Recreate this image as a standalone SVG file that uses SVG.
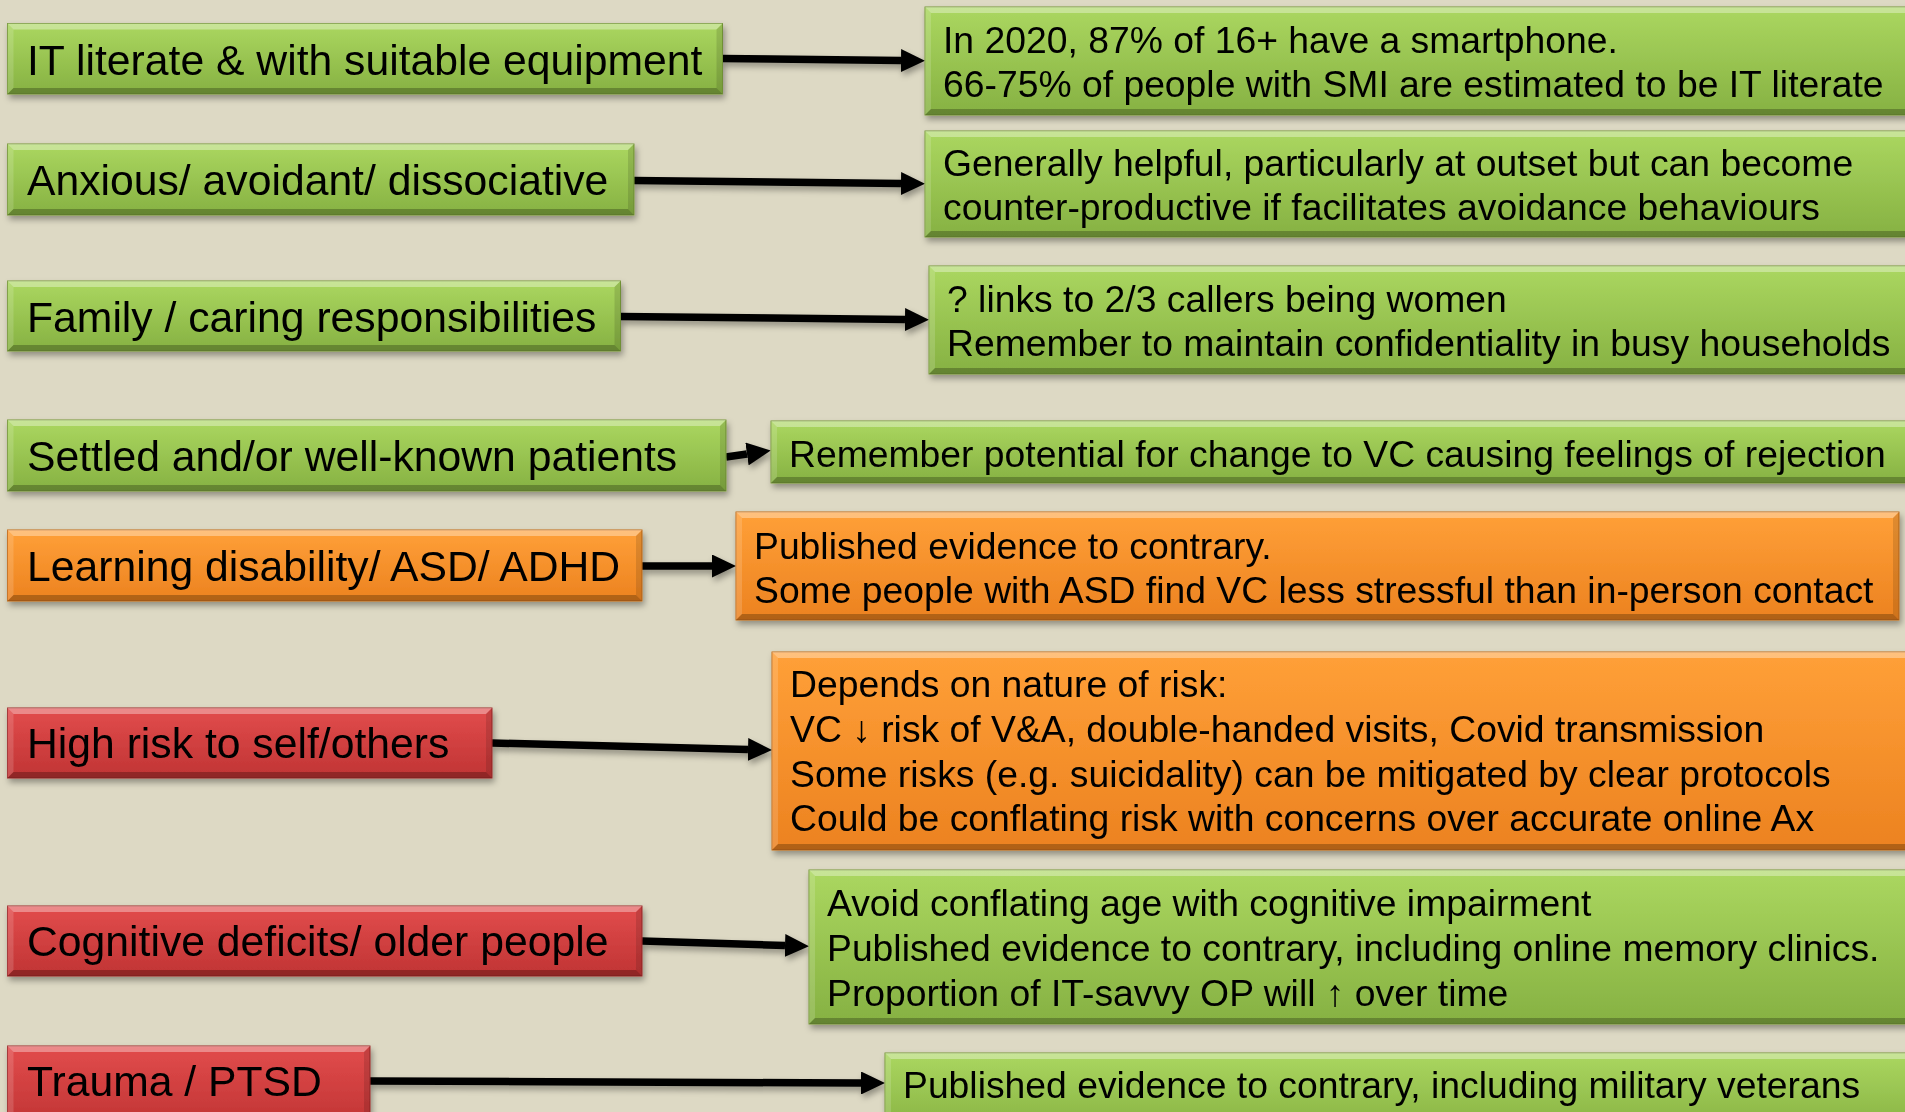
<svg xmlns="http://www.w3.org/2000/svg" width="1905" height="1112" viewBox="0 0 1905 1112">
<defs>
<linearGradient id="gG" x1="0" y1="0" x2="0" y2="1"><stop offset="0" stop-color="#abd760"/><stop offset="1" stop-color="#86b142"/></linearGradient>
<linearGradient id="gO" x1="0" y1="0" x2="0" y2="1"><stop offset="0" stop-color="#ffa038"/><stop offset="1" stop-color="#ec8220"/></linearGradient>
<linearGradient id="gR" x1="0" y1="0" x2="0" y2="1"><stop offset="0" stop-color="#e24c4c"/><stop offset="1" stop-color="#c03434"/></linearGradient>
<filter id="sh" x="-5%" y="-20%" width="110%" height="150%"><feDropShadow dx="2" dy="4" stdDeviation="3" flood-color="#000" flood-opacity="0.35"/></filter>
<marker id="ah" viewBox="0 0 24 23" refX="0" refY="11.5" markerWidth="24" markerHeight="23" markerUnits="userSpaceOnUse" orient="auto"><path d="M0,0 L24,11.5 L0,23 z" fill="#000"/></marker>
</defs>
<style>
.g{fill:url(#gG);stroke:#789a3a;stroke-width:1}
.o{fill:url(#gO);stroke:#c46c1c;stroke-width:1}
.r{fill:url(#gR);stroke:#a02c2c;stroke-width:1}
.bt{fill:#fff;fill-opacity:0.35}
.bl{fill:#fff;fill-opacity:0.15}
.br{fill:#000;fill-opacity:0.12}
.bb{fill:#000;fill-opacity:0.25}
.lt{font-family:"Liberation Sans",Arial,sans-serif;font-size:42.7px;fill:#000}
.rt{font-family:"Liberation Sans",Arial,sans-serif;font-size:37.3px;fill:#000}
.cn{fill:none;stroke:#000;stroke-width:7.5;marker-end:url(#ah)}
</style>
<rect x="0" y="0" width="1905" height="1112" fill="#ddd9c4"/>

<g id="connectors" filter="url(#sh)">
<path class="cn" d="M722,58.5 L901,60.5"/>
<path class="cn" d="M634,180.5 L901,183.5"/>
<path class="cn" d="M620,316.5 L905,319.5"/>
<path class="cn" d="M726,457 L747,454"/>
<path class="cn" d="M642,566 L712,566"/>
<path class="cn" d="M492,743 L748,749.5"/>
<path class="cn" d="M642,941 L785,945.5"/>
<path class="cn" d="M370,1081 L861,1083"/>
</g>

<!-- Left nodes -->
<g id="n-it" filter="url(#sh)">
<rect class="g" x="7.5" y="23.5" width="715" height="70.5"/>
<polygon class="bt" points="7.5,23.5 722.5,23.5 716.5,29.5 13.5,29.5"/>
<polygon class="bl" points="7.5,23.5 13.5,29.5 13.5,88 7.5,94"/>
<polygon class="br" points="722.5,23.5 722.5,94 716.5,88 716.5,29.5"/>
<polygon class="bb" points="7.5,94 13.5,88 716.5,88 722.5,94"/>
<text class="lt" x="27" y="74.5">IT literate &amp; with suitable equipment</text>
</g>
<g id="n-anx" filter="url(#sh)">
<rect class="g" x="7.5" y="144" width="626.5" height="71"/>
<polygon class="bt" points="7.5,144 634,144 628,150 13.5,150"/>
<polygon class="bl" points="7.5,144 13.5,150 13.5,209 7.5,215"/>
<polygon class="br" points="634,144 634,215 628,209 628,150"/>
<polygon class="bb" points="7.5,215 13.5,209 628,209 634,215"/>
<text class="lt" x="27" y="195">Anxious/ avoidant/ dissociative</text>
</g>
<g id="n-fam" filter="url(#sh)">
<rect class="g" x="7.5" y="281" width="613" height="70"/>
<polygon class="bt" points="7.5,281 620.5,281 614.5,287 13.5,287"/>
<polygon class="bl" points="7.5,281 13.5,287 13.5,345 7.5,351"/>
<polygon class="br" points="620.5,281 620.5,351 614.5,345 614.5,287"/>
<polygon class="bb" points="7.5,351 13.5,345 614.5,345 620.5,351"/>
<text class="lt" x="27" y="331.5">Family / caring responsibilities</text>
</g>
<g id="n-set" filter="url(#sh)">
<rect class="g" x="7.5" y="420" width="718.5" height="71"/>
<polygon class="bt" points="7.5,420 726,420 720,426 13.5,426"/>
<polygon class="bl" points="7.5,420 13.5,426 13.5,485 7.5,491"/>
<polygon class="br" points="726,420 726,491 720,485 720,426"/>
<polygon class="bb" points="7.5,491 13.5,485 720,485 726,491"/>
<text class="lt" x="27" y="471">Settled and/or well-known patients</text>
</g>
<g id="n-ld" filter="url(#sh)">
<rect class="o" x="7.5" y="530" width="634.5" height="71"/>
<polygon class="bt" points="7.5,530 642,530 636,536 13.5,536"/>
<polygon class="bl" points="7.5,530 13.5,536 13.5,595 7.5,601"/>
<polygon class="br" points="642,530 642,601 636,595 636,536"/>
<polygon class="bb" points="7.5,601 13.5,595 636,595 642,601"/>
<text class="lt" x="27" y="581">Learning disability/ ASD/ ADHD</text>
</g>
<g id="n-risk" filter="url(#sh)">
<rect class="r" x="7.5" y="708" width="484.5" height="70"/>
<polygon class="bt" points="7.5,708 492,708 486,714 13.5,714"/>
<polygon class="bl" points="7.5,708 13.5,714 13.5,772 7.5,778"/>
<polygon class="br" points="492,708 492,778 486,772 486,714"/>
<polygon class="bb" points="7.5,778 13.5,772 486,772 492,778"/>
<text class="lt" x="27" y="758">High risk to self/others</text>
</g>
<g id="n-cog" filter="url(#sh)">
<rect class="r" x="7.5" y="906" width="634.5" height="70"/>
<polygon class="bt" points="7.5,906 642,906 636,912 13.5,912"/>
<polygon class="bl" points="7.5,906 13.5,912 13.5,970 7.5,976"/>
<polygon class="br" points="642,906 642,976 636,970 636,912"/>
<polygon class="bb" points="7.5,976 13.5,970 636,970 642,976"/>
<text class="lt" x="27" y="956">Cognitive deficits/ older people</text>
</g>
<g id="n-trauma" filter="url(#sh)">
<rect class="r" x="7.5" y="1046" width="362.5" height="80"/>
<polygon class="bt" points="7.5,1046 370,1046 364,1052 13.5,1052"/>
<polygon class="bl" points="7.5,1046 13.5,1052 13.5,1126 7.5,1126"/>
<polygon class="br" points="370,1046 370,1126 364,1126 364,1052"/>
<text class="lt" x="27" y="1096">Trauma / PTSD</text>
</g>

<!-- Right nodes -->
<g id="r-it" filter="url(#sh)">
<rect class="g" x="925" y="7" width="995" height="108"/>
<polygon class="bt" points="925,7 1920,7 1914,13 931,13"/>
<polygon class="bl" points="925,7 931,13 931,109 925,115"/>
<polygon class="bb" points="925,115 931,109 1920,109 1920,115"/>
<text class="rt" x="943" y="52.5">In 2020, 87% of 16+ have a smartphone.</text>
<text class="rt" x="943" y="96.5">66-75% of people with SMI are estimated to be IT literate</text>
</g>
<g id="r-anx" filter="url(#sh)">
<rect class="g" x="925" y="131" width="995" height="106"/>
<polygon class="bt" points="925,131 1920,131 1914,137 931,137"/>
<polygon class="bl" points="925,131 931,137 931,231 925,237"/>
<polygon class="bb" points="925,237 931,231 1920,231 1920,237"/>
<text class="rt" x="943" y="175.5">Generally helpful, particularly at outset but can become</text>
<text class="rt" x="943" y="219.5">counter-productive if facilitates avoidance behaviours</text>
</g>
<g id="r-fam" filter="url(#sh)">
<rect class="g" x="929" y="266" width="991" height="108"/>
<polygon class="bt" points="929,266 1920,266 1914,272 935,272"/>
<polygon class="bl" points="929,266 935,272 935,368 929,374"/>
<polygon class="bb" points="929,374 935,368 1920,368 1920,374"/>
<text class="rt" x="947" y="311.5">? links to 2/3 callers being women</text>
<text class="rt" x="947" y="355.5">Remember to maintain confidentiality in busy households</text>
</g>
<g id="r-set" filter="url(#sh)">
<rect class="g" x="771" y="421" width="1149" height="62"/>
<polygon class="bt" points="771,421 1920,421 1914,427 777,427"/>
<polygon class="bl" points="771,421 777,427 777,477 771,483"/>
<polygon class="bb" points="771,483 777,477 1920,477 1920,483"/>
<text class="rt" x="789" y="467">Remember potential for change to VC causing feelings of rejection</text>
</g>
<g id="r-ld" filter="url(#sh)">
<rect class="o" x="736" y="512" width="1163" height="108"/>
<polygon class="bt" points="736,512 1899,512 1893,518 742,518"/>
<polygon class="bl" points="736,512 742,518 742,614 736,620"/>
<polygon class="br" points="1899,512 1899,620 1893,614 1893,518"/>
<polygon class="bb" points="736,620 742,614 1893,614 1899,620"/>
<text class="rt" x="754" y="558.5">Published evidence to contrary.</text>
<text class="rt" x="754" y="602.5">Some people with ASD find VC less stressful than in-person contact</text>
</g>
<g id="r-risk" filter="url(#sh)">
<rect class="o" x="772" y="652" width="1148" height="198"/>
<polygon class="bt" points="772,652 1920,652 1914,658 778,658"/>
<polygon class="bl" points="772,652 778,658 778,844 772,850"/>
<polygon class="bb" points="772,850 778,844 1920,844 1920,850"/>
<text class="rt" x="790" y="696.5">Depends on nature of risk:</text>
<text class="rt" x="790" y="741.5">VC ↓ risk of V&amp;A, double-handed visits, Covid transmission</text>
<text class="rt" x="790" y="786.5">Some risks (e.g. suicidality) can be mitigated by clear protocols</text>
<text class="rt" x="790" y="831">Could be conflating risk with concerns over accurate online Ax</text>
</g>
<g id="r-cog" filter="url(#sh)">
<rect class="g" x="809" y="870" width="1111" height="154"/>
<polygon class="bt" points="809,870 1920,870 1914,876 815,876"/>
<polygon class="bl" points="809,870 815,876 815,1018 809,1024"/>
<polygon class="bb" points="809,1024 815,1018 1920,1018 1920,1024"/>
<text class="rt" x="827" y="915.5">Avoid conflating age with cognitive impairment</text>
<text class="rt" x="827" y="960.5">Published evidence to contrary, including online memory clinics.</text>
<text class="rt" x="827" y="1005.5">Proportion of IT-savvy OP will ↑ over time</text>
</g>
<g id="r-trauma" filter="url(#sh)">
<rect class="g" x="885" y="1053" width="1035" height="80"/>
<polygon class="bt" points="885,1053 1920,1053 1914,1059 891,1059"/>
<polygon class="bl" points="885,1053 891,1059 891,1133 885,1133"/>
<text class="rt" x="903" y="1097.5">Published evidence to contrary, including military veterans</text>
</g>
</svg>
